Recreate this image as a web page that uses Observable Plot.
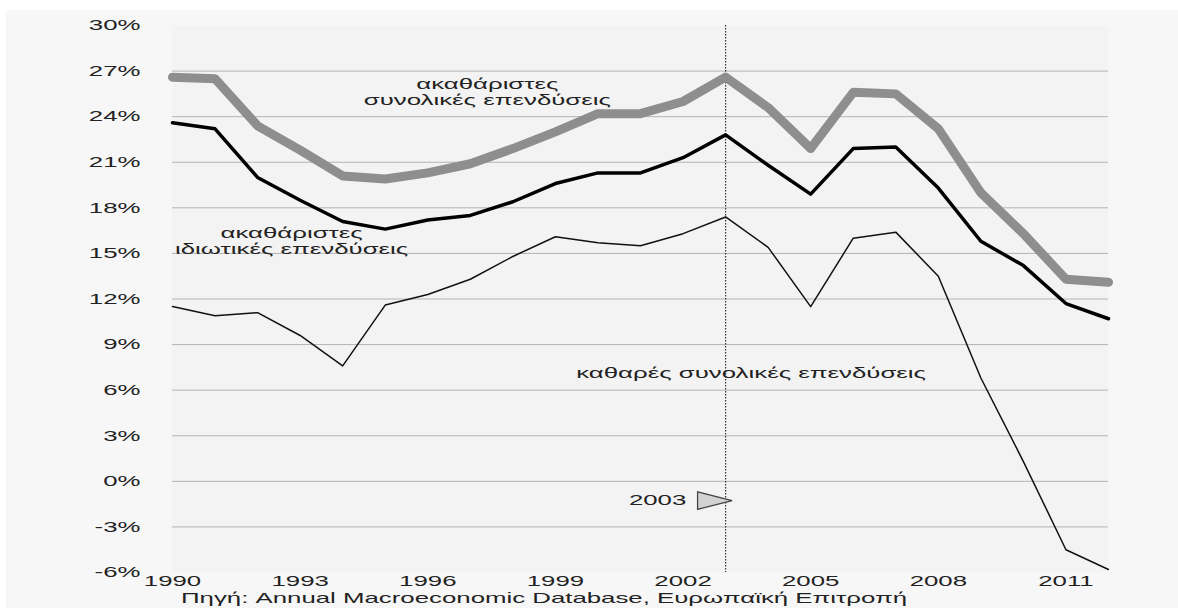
<!DOCTYPE html>
<html>
<head>
<meta charset="utf-8">
<script src="https://cdn.jsdelivr.net/npm/d3@7"></script>
<script src="https://cdn.jsdelivr.net/npm/@observablehq/plot@0.6"></script>
<style>
  html, body { margin: 0; padding: 0; background: #ffffff; }
  #wrap { position: absolute; left: 6px; top: 10px; width: 1172px; height: 598px; background: #f7f7f7; overflow: hidden; }
  #caption { position: absolute; left: 538px; top: 580px; line-height: 16px; white-space: nowrap; font-family: "Liberation Sans", Arial, sans-serif; font-size: 15px; color: #222;
             transform: translateX(-50%) scaleX(1.72); }
</style>
</head>
<body>
<div id="wrap"><div id="chart"></div><span id="caption">Πηγή: Annual Macroeconomic Database, Ευρωπαϊκή Επιτροπή</span></div>
<script>
// ---- data (percent of GDP) ----
const years = [1990,1991,1992,1993,1994,1995,1996,1997,1998,1999,2000,2001,2002,2003,2004,2005,2006,2007,2008,2009,2010,2011,2012];
const grossTotal   = [26.6,26.5,23.4,21.8,20.1,19.9,20.3,20.9,21.9,23.0,24.2,24.2,25.0,26.6,24.6,21.9,25.6,25.5,23.2,19.0,16.3,13.3,13.1];
const grossPrivate = [23.6,23.2,20.0,18.5,17.1,16.6,17.2,17.5,18.4,19.6,20.3,20.3,21.3,22.8,20.8,18.9,21.9,22.0,19.3,15.8,14.2,11.7,10.7];
const netTotal     = [11.5,10.9,11.1,9.6,7.6,11.6,12.3,13.3,14.8,16.1,15.7,15.5,16.3,17.4,15.4,11.5,16.0,16.4,13.5,6.8,1.3,-4.5,-5.8];
const xTicks = [1990,1993,1996,1999,2002,2005,2008,2011];
const yTicks = [-6,-3,0,3,6,9,12,15,18,21,24,27,30];
const gridTicks = [-3,0,3,6,9,12,15,18,21,24,27];
const labelGrossTotal = "ακαθάριστες\nσυνολικές επενδύσεις";
const labelGrossPrivate = "ακαθάριστες\nιδιωτικές επενδύσεις";
const labelNet = "καθαρές συνολικές επενδύσεις";
const markerYear = 2003;

const rows = (vals) => years.map((y, i) => ({year: y, value: vals[i]}));

const flag = {
  draw(ctx) {
    ctx.moveTo(6.5, 0);
    ctx.lineTo(-28, -8.7);
    ctx.lineTo(-28, 8.7);
    ctx.closePath();
  }
};

const FONT = '"Liberation Sans", Arial, sans-serif';

const chart = Plot.plot({
  width: 1172,
  height: 584,
  marginTop: 15,
  marginBottom: 22,
  marginLeft: 166,
  marginRight: 70,
  style: {fontSize: "15px", fontFamily: FONT, background: "transparent", color: "#222"},
  x: {domain: [1990, 2012], ticks: xTicks, tickFormat: d => String(d), tickSize: 0, tickPadding: 3, label: null},
  y: {domain: [-6, 30], ticks: yTicks, tickFormat: d => `${d}%`, tickSize: 0, tickPadding: 32, label: null},
  marks: [
    Plot.frame({fill: "#f3f3f3", stroke: null}),
    Plot.gridY(gridTicks, {stroke: "#b4b4b4", strokeOpacity: 1, strokeWidth: 1}),
    Plot.ruleX([markerYear], {stroke: "#333", strokeWidth: 1.2, strokeDasharray: "1.5,1.5"}),
    Plot.line(rows(grossTotal), {x: "year", y: "value", stroke: "#8e8e8e", strokeWidth: 9}),
    Plot.line(rows(grossPrivate), {x: "year", y: "value", stroke: "#000", strokeWidth: 3.5}),
    Plot.line(rows(netTotal), {x: "year", y: "value", stroke: "#111", strokeWidth: 1.5}),
    Plot.text([labelGrossTotal], {x: () => 1997.4, y: () => 25.65, text: d => d, lineHeight: 1.15, fill: "#222", fontSize: 14}),
    Plot.text([labelGrossPrivate], {x: () => 1992.8, y: () => 15.85, text: d => d, lineHeight: 1.15, fill: "#222", fontSize: 14}),
    Plot.text([labelNet], {x: () => 2003.6, y: () => 7.15, text: d => d, fill: "#222", fontSize: 15}),
    Plot.dot([markerYear], {x: d => d, y: () => -1.27, symbol: flag, fill: "#d2d2d2", stroke: "#444", strokeWidth: 1.3}),
    Plot.text([markerYear], {x: d => d, y: () => -1.27, text: d => String(d), dx: -68, fill: "#222", fontSize: 15})
  ]
});

document.getElementById("chart").appendChild(chart);

// horizontal stretch of all text, as in the reference picture (same final width for every font size)
chart.querySelectorAll("text, tspan").forEach(el => {
  if (el.querySelector("tspan")) return;
  const len = el.getComputedTextLength();
  const fs = parseFloat(getComputedStyle(el).fontSize) || 15;
  const stretch = 1.72 * 15 / fs;
  if (len > 0) {
    el.setAttribute("textLength", (len * stretch).toFixed(1));
    el.setAttribute("lengthAdjust", "spacingAndGlyphs");
  }
});
</script>
</body>
</html>
